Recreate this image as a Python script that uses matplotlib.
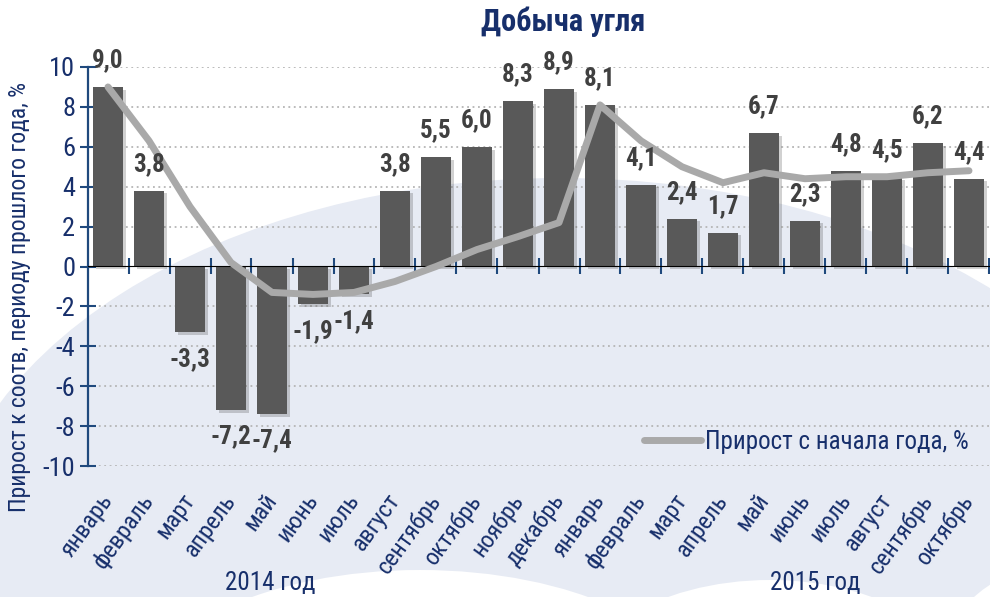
import matplotlib
matplotlib.use('Agg')
import matplotlib.pyplot as plt
import matplotlib.patheffects as pe
import matplotlib.transforms as mtransforms
from matplotlib.patches import Ellipse
from matplotlib.lines import Line2D
from matplotlib import font_manager
import numpy as np

# Data
months = ['январь', 'февраль', 'март', 'апрель', 'май', 'июнь', 'июль', 'август',
          'сентябрь', 'октябрь', 'ноябрь', 'декабрь',
          'январь', 'февраль', 'март', 'апрель', 'май', 'июнь', 'июль', 'август',
          'сентябрь', 'октябрь']
yoy = [9.0, 3.8, -3.3, -7.2, -7.4, -1.9, -1.4, 3.8, 5.5, 6.0, 8.3, 8.9,
       8.1, 4.1, 2.4, 1.7, 6.7, 2.3, 4.8, 4.5, 6.2, 4.4]
ytd = [9.0, 6.3, 3.0, 0.2, -1.3, -1.4, -1.3, -0.75, 0.0, 0.85, 1.5, 2.2,
       8.1, 6.3, 5.0, 4.2, 4.7, 4.4, 4.5, 4.5, 4.7, 4.8]
years = ['2014 год', '2015 год']

# Fonts: narrow face if available
installed = {f.name for f in font_manager.fontManager.ttflist}
family = 'DejaVu Sans'
for name in ['Liberation Sans Narrow', 'Roboto Condensed', 'Liberation Sans']:
    if name in installed:
        family = name
        break
plt.rcParams['font.family'] = [family, 'DejaVu Sans']
plt.rcParams['axes.unicode_minus'] = False

navy_text = '#172f6b'
navy_line = '#1f497d'
bar_color = '#595959'
line_color = '#a9a9a9'

fig = plt.figure(figsize=(9.9, 5.97), dpi=100)

# Background decoration (light blue globe shape)
bg = fig.add_axes([0, 0, 1, 1], zorder=0)
bg.set_xlim(0, 990)
bg.set_ylim(597, 0)
bg.axis('off')
bg.add_patch(Ellipse((560, 572), 1240, 788, color='#e7ebf4', lw=0))
bg.add_patch(Ellipse((420, 705), 560, 270, color='white', lw=0))
bg.add_patch(Ellipse((770, 715), 420, 270, color='white', lw=0))
bg.add_patch(Ellipse((1090, 690), 320, 270, color='white', lw=0))

ax = fig.add_axes([87.5 / 990, 1 - 466 / 597, 902 / 990, 399 / 597], zorder=1)
ax.patch.set_alpha(0)

x = np.arange(len(months))
bars = ax.bar(x, yoy, width=0.73, color=bar_color, zorder=2)
for b in bars:
    b.set_path_effects([pe.SimplePatchShadow(offset=(2, -2), alpha=0.2), pe.Normal()])

ax.plot(x, ytd, color=line_color, lw=5, solid_capstyle='round',
        solid_joinstyle='round', zorder=4)

for xi, v in zip(x, yoy):
    off = 19 if v >= 0 else -19
    ax.annotate(f'{v:.1f}'.replace('.', ','), (xi, v), xytext=(0, off),
                textcoords='offset points', ha='center', va='center',
                fontsize=18, fontweight='bold', color='#404040', zorder=5)

ax.set_xlim(-0.5, len(months) - 0.5)
ax.set_ylim(-10, 10)
ax.set_yticks(np.arange(-10, 11, 2))
ax.tick_params(axis='y', direction='inout', length=12, width=1.5, color=navy_line,
               labelsize=19, labelcolor=navy_text, pad=3)
for v in np.arange(-10, 11, 2):
    if v != 0:
        ax.axhline(v, color='#b5b5b5', lw=1.3, ls=(0, (1, 2)), zorder=1)

for s in ['top', 'right', 'bottom']:
    ax.spines[s].set_visible(False)
ax.spines['left'].set_color(navy_line)
ax.spines['left'].set_linewidth(1.6)

# Month labels at the bottom
ax.set_xticks(x)
ax.set_xticklabels(months, rotation=54, ha='right', va='top', rotation_mode='anchor',
                   fontsize=17.5, color=navy_text)
ax.tick_params(axis='x', length=0, pad=17)
shift = mtransforms.ScaledTranslation(-9 / 100, 0, fig.dpi_scale_trans)
for lbl in ax.get_xticklabels():
    lbl.set_transform(lbl.get_transform() + shift)

# Zero axis with category boundary ticks
zero = ax.secondary_xaxis(0.5)
zero.set_xticks(np.arange(0.5, len(months), 1.0))
zero.set_xticklabels([])
zero.tick_params(direction='inout', length=11, width=1.5, color=navy_line)
zero.spines['bottom'].set_color(navy_line)
zero.spines['bottom'].set_linewidth(1.8)
zero.set_zorder(3)

# Legend
h = Line2D([0], [0], color=line_color, lw=5, solid_capstyle='round')
leg = ax.legend([h], ['Прирост с начала года, %'], loc='center right',
                bbox_to_anchor=(0.977, 0.06), frameon=False, fontsize=18,
                handlelength=2.3, handletextpad=0.15, borderpad=0, borderaxespad=0)
for t in leg.get_texts():
    t.set_color(navy_text)

fig.text(563 / 990, 1 - 22 / 597, 'Добыча угля', ha='center', va='center',
         fontsize=22, fontweight='bold', color=navy_text)
fig.text(20 / 990, 1 - 297 / 597, 'Прирост к соотв, периоду прошлого года, %',
         rotation=90, ha='center', va='center', fontsize=17, color=navy_text)
fig.text(270 / 990, 1 - 583 / 597, years[0], ha='center', va='center',
         fontsize=18, color=navy_text)
fig.text(815 / 990, 1 - 583 / 597, years[1], ha='center', va='center',
         fontsize=18, color=navy_text)

fig.savefig('out.png', dpi=100)
